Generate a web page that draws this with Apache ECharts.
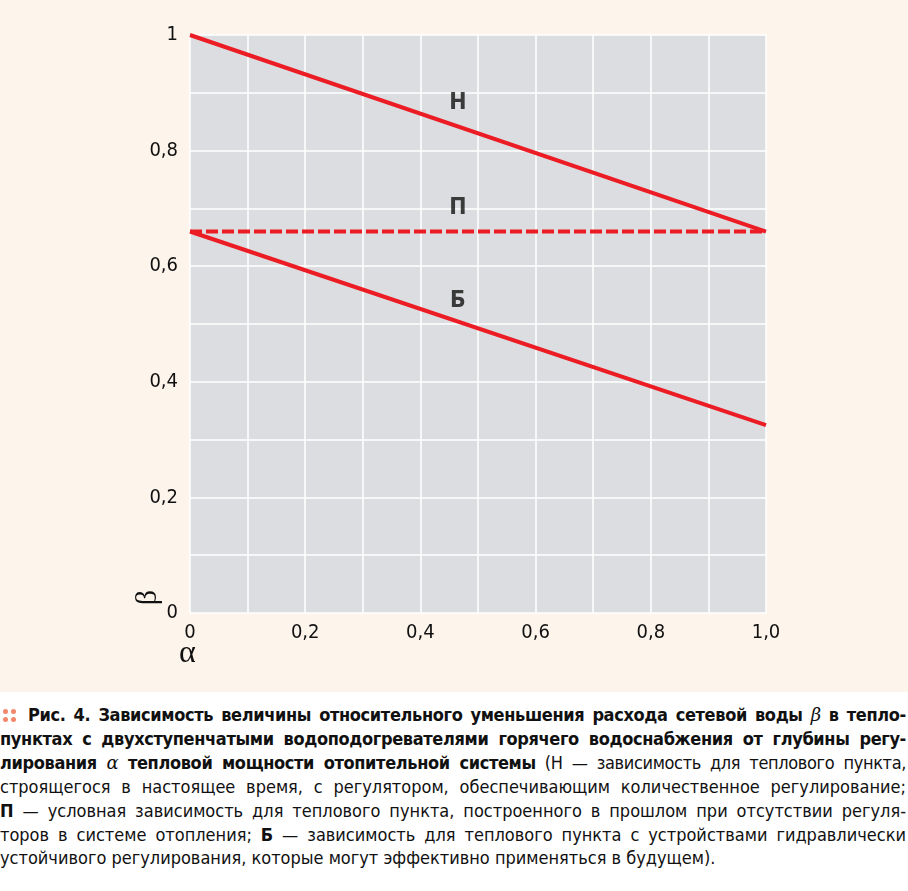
<!DOCTYPE html>
<html><head><meta charset="utf-8">
<script src="https://cdn.jsdelivr.net/npm/echarts@6/dist/echarts.min.js"></script>
<style>
html,body{margin:0;padding:0;background:#ffffff;}
#chart{position:absolute;left:0;top:0;width:908px;height:692px;background:#fdf4ec;}
#cap{position:absolute;left:0;top:703px;width:906px;font-family:'DejaVu Sans Condensed','Liberation Sans Narrow','Roboto',sans-serif;font-size:18px;color:#111;line-height:23.9px;}
#cap .l{display:block;text-align:justify;text-align-last:justify;white-space:nowrap;}
#cap .bl{letter-spacing:-0.35px;}
#cap .last{text-align-last:left;}
#cap b{font-weight:bold;}
#cap .m{font-family:'DejaVu Serif','Liberation Serif',serif;font-style:italic;font-weight:normal;}
#dots{position:absolute;left:3px;top:709px;width:5px;height:5px;border-radius:50%;background:#f3876b;box-shadow:8px 0 #f3876b,0 8px #f3876b,8px 8px #f3876b;}
#cap .pad{display:inline-block;width:28px;}
</style>
</head><body>
<div id="chart"></div>
<div id="dots"></div>
<div id="cap">
<span class="l bl"><span class="pad"></span><b>Рис. 4. Зависимость величины относительного уменьшения расхода сетевой воды <span class="m">β</span> в тепло-</b></span>
<span class="l bl"><b>пунктах с двухступенчатыми водоподогревателями горячего водоснабжения от глубины регу-</b></span>
<span class="l bl"><b>лирования <span class="m">α</span> тепловой мощности отопительной системы</b> (Н — зависимость для теплового пункта,</span>
<span class="l">строящегося в настоящее время, с регулятором, обеспечивающим количественное регулирование;</span>
<span class="l"><b>П</b> — условная зависимость для теплового пункта, построенного в прошлом при отсутствии регуля-</span>
<span class="l">торов в системе отопления; <b>Б</b> — зависимость для теплового пункта с устройствами гидравлически</span>
<span class="l last">устойчивого регулирования, которые могут эффективно применяться в будущем).</span>
</div>
<script>
// Data
const alphaValues = [0, 1];
const seriesN = [1, 0.66];
const seriesP = [0.66, 0.66];
const seriesB = [0.66, 0.325];
const curveNames = ['Н', 'П', 'Б'];
const curveLabelAlpha = [0.465, 0.465, 0.465];
const curveLabelBeta = [0.882, 0.70, 0.54];
const xTickLabels = ['0', '0,2', '0,4', '0,6', '0,8', '1,0'];
const yTickLabels = ['0', '0,2', '0,4', '0,6', '0,8', '1'];

const RED = '#ec1c24';
const FONT = "'DejaVu Sans Condensed','Liberation Sans Narrow','Roboto',sans-serif";

function tickFmt(labels) {
  return function (v) {
    const k = Math.round(v * 10);
    if (k % 2 !== 0) return '';
    return labels[k / 2];
  };
}

const chart = echarts.init(document.getElementById('chart'), null, {renderer: 'canvas'});
chart.setOption({
  backgroundColor: '#fdf4ec',
  animation: false,
  grid: {left: 190, right: 142, top: 35, bottom: 79, show: true, backgroundColor: '#dcdde0', borderWidth: 0},
  xAxis: {
    type: 'value', min: 0, max: 1, interval: 0.1,
    axisLine: {show: false}, axisTick: {show: false},
    splitLine: {show: true, lineStyle: {color: '#ffffff', width: 1.5}},
    axisLabel: {formatter: tickFmt(xTickLabels), margin: 10, color: '#111', fontSize: 20, fontFamily: FONT, showMinLabel: true, showMaxLabel: true}
  },
  yAxis: {
    type: 'value', min: 0, max: 1, interval: 0.1,
    axisLine: {show: false}, axisTick: {show: false},
    splitLine: {show: true, lineStyle: {color: '#ffffff', width: 1.5}},
    axisLabel: {formatter: tickFmt(yTickLabels), margin: 12, color: '#111', fontSize: 20, fontFamily: FONT}
  },
  graphic: [
    {type: 'text', left: 133, top: 590, rotation: Math.PI / 2, style: {text: 'β', font: "30px 'Liberation Serif', serif", fill: '#111'}, originX: 0, originY: 0},
    {type: 'text', left: 179, top: 638, style: {text: 'α', font: "32px 'Liberation Serif', serif", fill: '#111'}}
  ],
  series: [
    {type: 'line', name: 'Н', data: alphaValues.map((a, i) => [a, seriesN[i]]), symbol: 'none', lineStyle: {color: RED, width: 4}},
    {type: 'line', name: 'П', data: alphaValues.map((a, i) => [a, seriesP[i]]), symbol: 'none', lineStyle: {color: RED, width: 4, type: [12, 4]}},
    {type: 'line', name: 'Б', data: alphaValues.map((a, i) => [a, seriesB[i]]), symbol: 'none', lineStyle: {color: RED, width: 4}},
    {type: 'scatter', symbolSize: 0,
      data: curveNames.map((n, i) => ({name: n, value: [curveLabelAlpha[i], curveLabelBeta[i]]})),
      label: {show: true, position: 'inside', formatter: '{b}', color: '#111', fontSize: 23, fontWeight: 'bold', fontFamily: FONT}}
  ]
});
</script>
</body></html>
